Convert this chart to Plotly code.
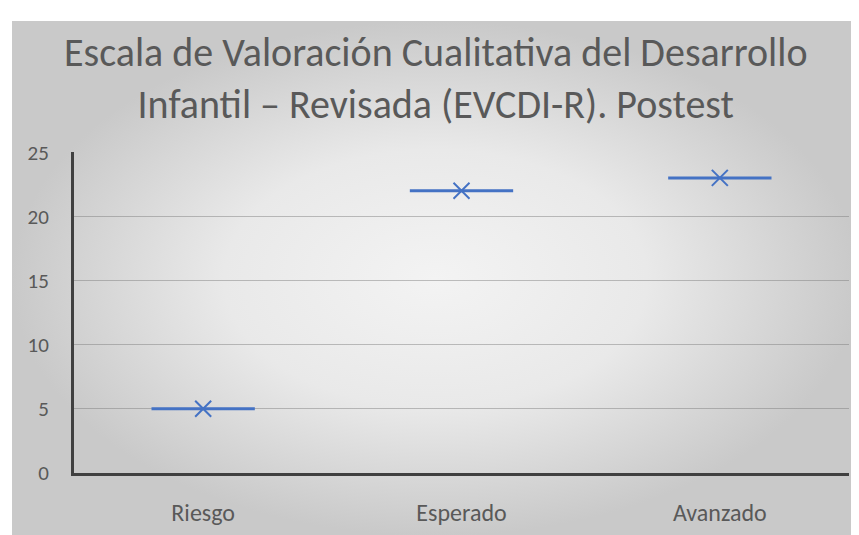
import plotly.graph_objects as go

categories = ["Riesgo", "Esperado", "Avanzado"]
values = [5, 22, 23]
y_ticks = [0, 5, 10, 15, 20, 25]
title_text = "Escala de Valoración Cualitativa del Desarrollo<br>Infantil – Revisada (EVCDI-R). Postest"

BLUE = "#4472C4"
FONT = "Calibri, Carlito, Lato, sans-serif"
W, H = 851, 541
OFF = 8

def fx(px):  # target screen px -> paper fraction (x)
    return min(1, max(0, (px - OFF) / W))

def fy(py):  # target screen px from top -> paper fraction (y), empirically calibrated
    fig_px = (py - 13) / 0.953 - OFF
    return min(1, max(0, 1 - fig_px / H))

fig = go.Figure()

# Background card with radial gradient (on full-paper helper axes)
fig.add_trace(go.Scatter(
    x=[0, 1, 1, 0, 0], y=[0, 0, 1, 1, 0], mode="lines", fill="toself",
    line=dict(width=0, color="rgba(0,0,0,0)"),
    fillgradient=dict(type="radial", colorscale=[[0, "#f3f3f3"], [0.5, "#e9e9e9"], [1, "#c9c9c9"]]),
    hoverinfo="skip", showlegend=False, xaxis="x", yaxis="y",
))

# Box plot (all quartiles equal => single horizontal line)
fig.add_trace(go.Box(
    x=categories, q1=values, median=values, q3=values,
    lowerfence=values, upperfence=values,
    boxpoints=False, width=0.4,
    line=dict(color=BLUE, width=3), fillcolor="rgba(0,0,0,0)",
    showlegend=False, xaxis="x2", yaxis="y2",
))
# Mean markers
fig.add_trace(go.Scatter(
    x=categories, y=values, mode="markers",
    marker=dict(symbol="x-thin", size=16, line=dict(width=2, color=BLUE), color=BLUE),
    showlegend=False, xaxis="x2", yaxis="y2",
))

fig.update_layout(
    width=W, height=H,
    margin=dict(l=0, r=0, t=0, b=0),
    paper_bgcolor="white", plot_bgcolor="rgba(0,0,0,0)",
    xaxis=dict(domain=[fx(12), 1], range=[0, 1], visible=False, fixedrange=True),
    yaxis=dict(domain=[0, 1], range=[0, 1], visible=False, fixedrange=True),
    xaxis2=dict(domain=[fx(74), fx(849)], anchor="y2", type="category",
                categoryorder="array", categoryarray=categories,
                range=[-0.5, 2.5], showgrid=False, showline=True, linecolor="#404040",
                linewidth=3, ticks="", ticklabelstandoff=16,
                tickfont=dict(family=FONT, size=24, color="#595959")),
    yaxis2=dict(domain=[fy(473), fy(152)], anchor="x2", range=[0, 25],
                tickvals=y_ticks, showgrid=True, gridcolor="rgba(120,120,120,0.45)",
                gridwidth=1, showline=True, linecolor="#404040", linewidth=3,
                zeroline=False, ticks="", ticklabelstandoff=18,
                tickfont=dict(family=FONT, size=21, color="#595959")),
    annotations=[dict(text=title_text, x=fx(435), y=fy(78), xref="paper", yref="paper",
                      xanchor="center", yanchor="middle", showarrow=False, align="center",
                      font=dict(family=FONT, size=40, color="#595959", weight=300))],
)

fig.write_html("out.html")
